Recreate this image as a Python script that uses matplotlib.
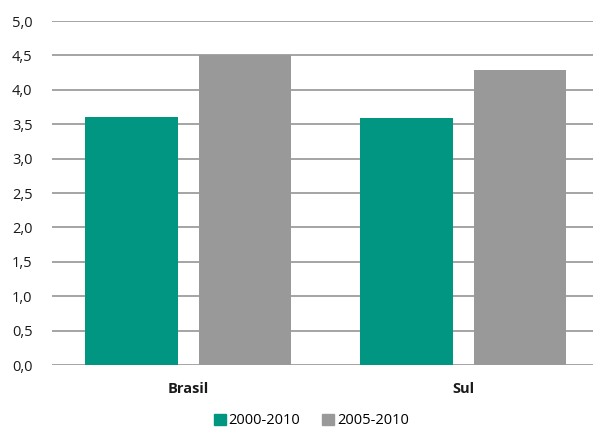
import matplotlib
matplotlib.use("Agg")
import matplotlib.pyplot as plt
import numpy as np
from matplotlib.patches import Patch

plt.rcParams["font.family"] = ["Open Sans", "DejaVu Sans"]

categories = ["Brasil", "Sul"]
series_names = ["2000-2010", "2005-2010"]
vals_2000_2010 = [3.60, 3.59]
vals_2005_2010 = [4.50, 4.29]
yticks = [0.0, 0.5, 1.0, 1.5, 2.0, 2.5, 3.0, 3.5, 4.0, 4.5, 5.0]

TEAL = "#009681"
GREY = "#999999"

fig = plt.figure(figsize=(5.93, 4.30), dpi=100)
ax = fig.add_axes([0.0877, 0.151, 0.9123, 0.80])

x = np.arange(len(categories))
w = 0.335
off = 0.207
ax.bar(x - off, vals_2000_2010, w, color=TEAL, zorder=3)
ax.bar(x + off, vals_2005_2010, w, color=GREY, zorder=3)

ax.set_ylim(0, 5)
ax.set_xlim(-0.496, 1.471)
ax.set_yticks(yticks)
ax.set_yticklabels([f"{v:.1f}".replace(".", ",") for v in yticks])
for v in yticks:
    ax.axhline(v, color="#8c8c8c", lw=1.1, zorder=1)

ax.set_xticks(x)
ax.set_xticklabels(categories, fontweight="bold")
ax.tick_params(axis="x", length=0, pad=12, labelsize=10.5, labelcolor="#1a1a1a")
ax.tick_params(axis="y", length=0, pad=14, labelsize=10.5, labelcolor="#1a1a1a")
for s in ax.spines.values():
    s.set_visible(False)

handles = [Patch(color=TEAL), Patch(color=GREY)]
fig.legend(handles, series_names, loc="center", bbox_to_anchor=(0.525, 0.021),
           ncol=2, frameon=False, fontsize=10.5, handlelength=0.8, handleheight=0.8,
           handletextpad=0.2, columnspacing=1.5)

fig.savefig("out.png", dpi=100)
